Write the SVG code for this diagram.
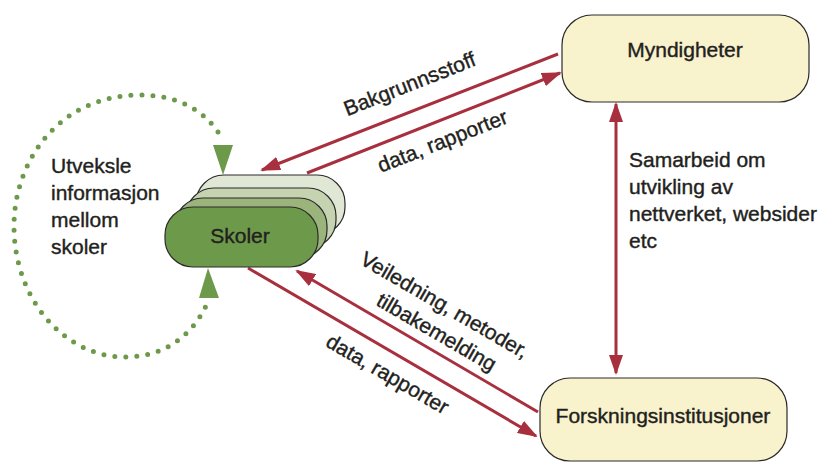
<svg xmlns="http://www.w3.org/2000/svg" width="820" height="462" viewBox="0 0 820 462">
<defs>
<style>
text{font-family:"Liberation Sans",Arial,sans-serif;font-size:21px;fill:#231f20;stroke:#231f20;stroke-width:0.4}
.box{stroke:#2a2a2a;stroke-width:1.2}
.yel{fill:#f8f2cd}
.red{stroke:#a8303e;stroke-width:3;fill:none}
.dots{stroke:#6d9a4a;stroke-width:5;fill:none;stroke-linecap:round;stroke-dasharray:0 11}
.mid{text-anchor:middle}
</style>
<marker id="ah" viewBox="0 0 20 14" refX="18" refY="7" markerWidth="20" markerHeight="14" markerUnits="userSpaceOnUse" orient="auto-start-reverse">
<path d="M0 0 L20 7 L0 14 Z" fill="#a8303e"/>
</marker>
</defs>
<rect width="820" height="462" fill="#ffffff"/>

<g id="connectors">
<line class="red" x1="558" y1="54" x2="262" y2="170" marker-end="url(#ah)"/>
<line class="red" x1="307" y1="173" x2="560" y2="73" marker-end="url(#ah)"/>
<line class="red" x1="248" y1="268" x2="536" y2="436" marker-end="url(#ah)"/>
<line class="red" x1="538" y1="412" x2="297" y2="271" marker-end="url(#ah)"/>
<line class="red" x1="616" y1="104" x2="616" y2="373" marker-start="url(#ah)" marker-end="url(#ah)"/>
<path class="dots" d="M218 132 C200 106 172 95 140 95 C60 95 14 160 14 226 C14 300 65 357 125 357 C160 357 190 340 207 304"/>
<polygon points="213,145 233,145 223,175" fill="#6d9a4a"/>
<polygon points="199,298 219,298 208,268" fill="#6d9a4a"/>
</g>

<g id="labels">
<text class="mid" transform="translate(410,85) rotate(-21.5)" y="6">Bakgrunnsstoff</text>
<text class="mid" transform="translate(443,142) rotate(-21.5)" y="6">data, rapporter</text>
<text class="mid" transform="translate(444,306) rotate(30.2)" y="6">Veiledning, metoder,</text>
<text class="mid" transform="translate(436,333) rotate(30.2)" y="6">tilbakemelding</text>
<text class="mid" transform="translate(387,375) rotate(30.2)" y="6">data, rapporter</text>
<text x="629" y="167">Samarbeid om</text>
<text x="629" y="194">utvikling av</text>
<text x="629" y="221">nettverket, websider</text>
<text x="629" y="248">etc</text>
<text x="51" y="173">Utveksle</text>
<text x="51" y="200">informasjon</text>
<text x="51" y="227">mellom</text>
<text x="51" y="254">skoler</text>
</g>

<g id="myndigheter">
<rect class="box yel" x="562" y="15" width="247" height="87" rx="30"/>
<text class="mid" x="685" y="57">Myndigheter</text>
</g>

<g id="forskningsinstitusjoner">
<rect class="box yel" x="540" y="378" width="247" height="83" rx="30"/>
<text class="mid" x="663" y="423">Forskningsinstitusjoner</text>
</g>

<g id="skoler">
<rect class="box" x="196" y="175" width="149" height="60" rx="28" fill="#e1e7d5"/>
<rect class="box" x="186" y="188" width="150" height="60" rx="28" fill="#c5d3b1"/>
<rect class="box" x="175" y="198" width="152" height="60" rx="28" fill="#9bb47c"/>
<rect class="box" x="165" y="207" width="153" height="60" rx="28" fill="#6d9a4a"/>
<text class="mid" x="240" y="243">Skoler</text>
</g>
</svg>
